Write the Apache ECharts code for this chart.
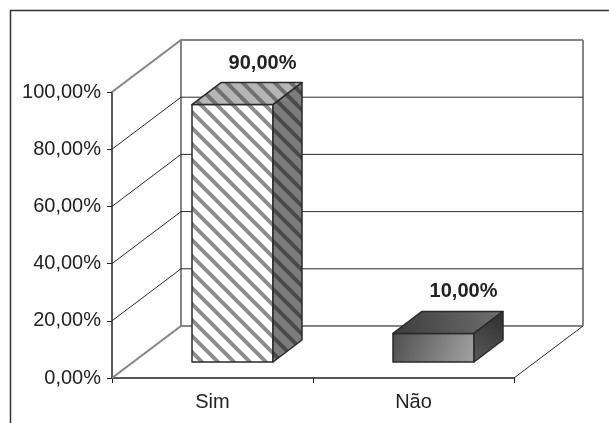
<!DOCTYPE html>
<html>
<head>
<meta charset="utf-8">
<style>html,body{margin:0;padding:0;background:#fff}#c{width:609px;height:423px}</style>
<script src="https://cdn.jsdelivr.net/npm/echarts@6/dist/echarts.min.js"></script>
</head>
<body>
<div id="c"></div>
<script>
const categories = ['Sim', 'Não'];
const shares = [90, 10];
const yTicks = [0, 20, 40, 60, 80, 100];

// Oblique projection of the box: wall depth, bar inset and bar depth in pixels.
const WALL_DX = 69, WALL_DY = -52;
const INSET_DX = 20, INSET_DY = -16;
const BAR_DX = 29, BAR_DY = -22;
const BAR_W = 81;

const pct = v => v.toFixed(2).replace('.', ',') + '%';

function stripes(bg, fg) {
  const n = 16, cv = document.createElement('canvas');
  cv.width = cv.height = n;
  const g = cv.getContext('2d');
  g.fillStyle = bg; g.fillRect(0, 0, n, n);
  g.strokeStyle = fg; g.lineWidth = 4;
  for (let i = -n; i <= n; i += n) {
    g.beginPath(); g.moveTo(i - 2, -2); g.lineTo(i + n + 2, n + 2); g.stroke();
  }
  return { image: cv, repeat: 'repeat' };
}

const grad = (x, y, x2, y2, a, b) => new echarts.graphic.LinearGradient(x, y, x2, y2, [
  { offset: 0, color: a }, { offset: 1, color: b }
]);

// Face fills per bar.
const faces = [
  { front: stripes('#ffffff', '#8d8d8d'), top: stripes('#b6b6b6', '#707070'), side: stripes('#7c7c7c', '#4a4a4a') },
  { front: grad(0, 0, 1, 1, '#4e4e4e', '#a4a4a4'), top: grad(0, 1, 1, 0, '#3c3c3c', '#707070'), side: grad(0, 1, 1, 0, '#5a5a5a', '#2e2e2e') }
];

function poly(points, fill, stroke, lineWidth) {
  return {
    type: 'polygon', shape: { points: points },
    style: { fill: fill, stroke: stroke, lineWidth: lineWidth, lineJoin: 'round' }
  };
}

function renderWall(params, api) {
  const cs = params.coordSys;
  const y = api.coord([0, api.value(0)])[1];
  const x0 = cs.x, x1 = cs.x + cs.width;
  const isFloor = params.dataIndex === 0, isTop = params.dataIndex === yTicks.length - 1;
  const heavy = isFloor || isTop;
  const color = heavy ? '#858585' : '#2a2a2a';
  const width = heavy ? 2 : 1;
  const kids = [{
    type: 'polyline',
    shape: { points: [[x0, y], [x0 + WALL_DX, y + WALL_DY], [x1 + WALL_DX, y + WALL_DY]] },
    style: { fill: null, stroke: color, lineWidth: width }
  }];
  if (isFloor) {
    kids.push({
      type: 'line', shape: { x1: x1, y1: y, x2: x1 + WALL_DX, y2: y + WALL_DY },
      style: { stroke: '#2a2a2a', lineWidth: 1 }
    });
    const top = api.coord([0, yTicks[yTicks.length - 1]])[1];
    [x0 + WALL_DX, x1 + WALL_DX].forEach(x => kids.push({
      type: 'line', shape: { x1: x, y1: y + WALL_DY, x2: x, y2: top + WALL_DY },
      style: { stroke: '#858585', lineWidth: 2 }
    }));
  }
  return { type: 'group', children: kids };
}

function renderBar(params, api) {
  const i = api.value(0);
  const top = api.coord([i, api.value(1)]);
  const base = api.coord([i, 0]);
  const l = top[0] - BAR_W / 2 + INSET_DX, r = l + BAR_W;
  const t = top[1] + INSET_DY, b = base[1] + INSET_DY;
  const f = faces[params.dataIndex];
  const edge = '#2a2a2a';
  return {
    type: 'group',
    children: [
      poly([[l, b], [r, b], [r, t], [l, t]], f.front, edge, 1.5),
      poly([[l, t], [r, t], [r + BAR_DX, t + BAR_DY], [l + BAR_DX, t + BAR_DY]], f.top, edge, 1.5),
      poly([[r, b], [r + BAR_DX, b + BAR_DY], [r + BAR_DX, t + BAR_DY], [r, t]], f.side, edge, 1.5),
      {
        type: 'text',
        style: {
          x: (l + r) / 2 + BAR_DX + 1, y: t + BAR_DY - 19.5,
          text: pct(api.value(1)), align: 'center', verticalAlign: 'middle',
          font: 'bold 20px "Liberation Sans", Arial, sans-serif', fill: '#222'
        }
      }
    ]
  };
}

const chart = echarts.init(document.getElementById('c'), null, { renderer: 'canvas' });
chart.setOption({
  animation: false,
  backgroundColor: '#ffffff',
  grid: { left: 112, top: 92, width: 402, height: 286 },
  graphic: [{
    type: 'polyline', silent: true, z: 0,
    shape: { points: [[10.5, 423], [10.5, 10.5], [609, 10.5]] },
    style: { fill: null, stroke: '#333', lineWidth: 1.5 }
  }],
  xAxis: {
    type: 'category', data: categories,
    axisLine: { show: true, lineStyle: { color: '#222', width: 1.5 } },
    axisTick: { show: true, length: 5, lineStyle: { color: '#222' } },
    axisLabel: { color: '#222', fontFamily: 'Liberation Sans', fontSize: 20, margin: 14 }
  },
  yAxis: {
    type: 'value', min: 0, max: 100, interval: 20,
    splitLine: { show: false },
    axisLine: { show: true, lineStyle: { color: '#222', width: 1.5 } },
    axisTick: { show: true, length: 5, lineStyle: { color: '#222' } },
    axisLabel: { color: '#222', fontFamily: 'Liberation Sans', fontSize: 20, margin: 11, padding: [3, 0, 0, 0], formatter: pct }
  },
  series: [
    {
      type: 'custom', renderItem: renderWall, clip: false, silent: true, z: 1,
      data: yTicks.map(v => [v]), encode: { y: 0 }
    },
    {
      type: 'custom', renderItem: renderBar, clip: false, silent: true, z: 2,
      data: shares.map((v, i) => [i, v]), encode: { x: 0, y: 1 }
    }
  ]
});
</script>
</body>
</html>
